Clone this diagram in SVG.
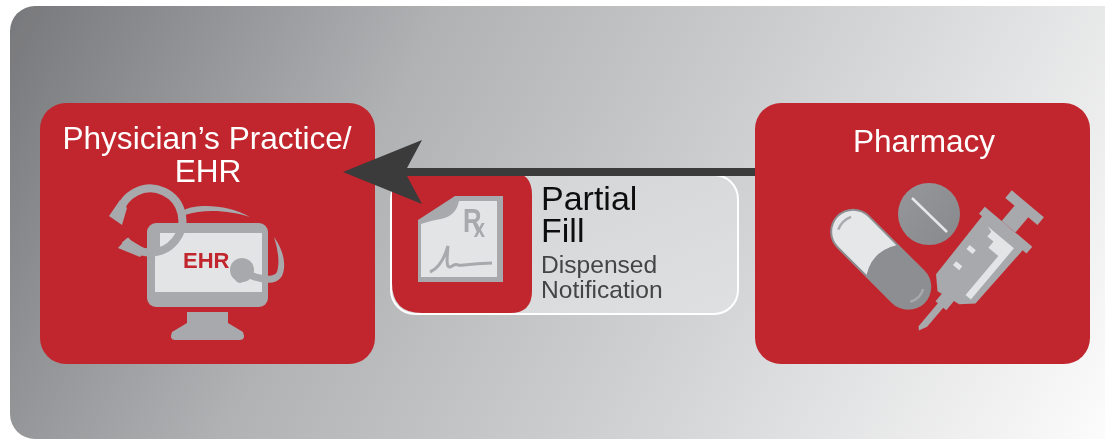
<svg xmlns="http://www.w3.org/2000/svg" width="1105" height="439" viewBox="0 0 1105 439">
<defs>
<linearGradient id="bg" gradientUnits="userSpaceOnUse" x1="10" y1="7" x2="1049" y2="548"><stop offset="0" stop-color="#77787b"/><stop offset="0.33" stop-color="#b1b2b4"/><stop offset="0.6" stop-color="#cdced0"/><stop offset="1" stop-color="#fcfcfc"/></linearGradient>
<linearGradient id="card" x1="0" y1="0" x2="1" y2="1"><stop offset="0" stop-color="#d2d3d5"/><stop offset="1" stop-color="#dfe0e1"/></linearGradient>
<linearGradient id="tab" x1="0" y1="0" x2="1" y2="1"><stop offset="0" stop-color="#96979a"/><stop offset="1" stop-color="#88898c"/></linearGradient>
<filter id="soft" x="0" y="0" width="100%" height="100%"><feGaussianBlur stdDeviation="0.45"/></filter>
<style>
.t{font-family:"Liberation Sans",Arial,sans-serif}
.w{fill:#fff;font-size:31.6px;text-anchor:middle}
.red{fill:#c1272d}
.g{fill:#a7a9ac}
.l{fill:#e3e4e5}
</style>
</defs>
<g filter="url(#soft)">
<rect id="background" x="10" y="6" width="1125" height="433" rx="25" fill="url(#bg)"/>
<g id="physician">
<rect class="red" x="40" y="103" width="335" height="261" rx="26"/>
<text class="t w" x="207" y="149">Physician’s Practice/</text>
<text class="t w" x="208" y="182">EHR</text>
<rect class="g" x="147" y="223" width="121" height="84" rx="9"/>
<path class="l" d="M155 248H160V233H262V292H155Z"/>
<path class="g" d="M187 312H228V323L243 332Q246 340 240 340H175Q169 340 172 332L187 323Z"/>
<text class="t" x="183" y="268" font-size="22" font-weight="700" fill="#c1272d">EHR</text>
<path d="M119 214A32 32 0 1 1 125 240" fill="none" stroke="#a7a9ac" stroke-width="8"/>
<path class="g" d="M109 216L122 225L127 208L120 200Z"/>
<path class="g" d="M118 248L127 238L147 250L140 257Z"/>
<path class="g" d="M184 210C198 203 230 205 250 217C232 211 205 208 185 215Z"/>
<path class="g" d="M274 237C283 249 287 265 282 276C277 284 266 285 250 279L240 275L241 269L252 272C266 277 274 277 277 272C280 262 278 250 274 237Z"/>
<circle class="g" cx="242" cy="270" r="12"/>
<circle class="g" cx="240" cy="278" r="5"/>
</g>
<g id="pharmacy">
<rect class="red" x="755" y="103" width="335" height="261" rx="26"/>
<text class="t w" x="924" y="152">Pharmacy</text>
<circle cx="929" cy="214" r="31" fill="url(#tab)"/>
<path d="M912 198L947 232" stroke="#e6e7e8" stroke-width="2.5" fill="none"/>
<g transform="rotate(45 880 260)">
<rect x="818" y="236" width="124" height="46" rx="23" fill="#8d8e91"/>
<path d="M881 238H841A21 21 0 0 0 841 280H881Q868 259 881 238Z" fill="#e6e7e8"/>
<path d="M829 250Q825 259 829 268M931 250Q936 259 931 268" fill="none" stroke="#a7a9ac" stroke-width="2.5"/>
</g>
<g transform="translate(922 333) rotate(-50)">
<path class="g" d="M128 -33H137V29H128V24L57 22L46 10L42 -15L54 -27L128 -29Z"/>
<rect class="g" x="137" y="-11" width="21" height="18"/>
<rect class="g" x="157" y="-23" width="10" height="42"/>
<rect class="g" x="33" y="-10" width="12" height="14"/>
<path class="g" d="M0 -4L3 -7L36 -7V0L8 0Z"/>
<path class="l" d="M124 -18V16H57V9H108V-4H116V-12H122Z"/>
<path class="l" d="M72 -20H77V-12H72ZM93 -20H98V-12H93Z"/>
</g>
</g>
<g id="partial-fill">
<rect x="391" y="175" width="347" height="139" rx="24" fill="url(#card)" stroke="#fff" stroke-width="2"/>
<path class="red" d="M392 172H510Q532 172 532 195V291Q532 313 510 313H422Q392 313 392 283Z"/>
<path class="g" d="M455 196H503V282H418V220Z"/>
<path class="l" d="M459 201H497V277H421V224Q433 220 441 219Q456 216 459 201Z"/>
<text class="t" transform="translate(463 232) scale(.78 1)" font-size="33" font-weight="700" fill="#a7a9ac">R<tspan dx="-10" dy="5" font-size="26">x</tspan></text>
<path d="M430 272C437 269 443 263 448 246C447 258 446 268 450 267C453 266 455 263 458 265C461 266 464 264 492 263" fill="none" stroke="#a7a9ac" stroke-width="3"/>
<text class="t" x="541" y="210" font-size="34" fill="#111">Partial</text>
<text class="t" x="541" y="242" font-size="34" fill="#111">Fill</text>
<text class="t" x="541" y="273" font-size="24.6" fill="#444">Dispensed</text>
<text class="t" x="541" y="298" font-size="24.6" fill="#444">Notification</text>
</g>
<g id="connectors">
<path d="M755 168V176H407L422 204L343 172L422 140L407 168Z" fill="#3a3a3b"/>
</g>
</g>
</svg>
